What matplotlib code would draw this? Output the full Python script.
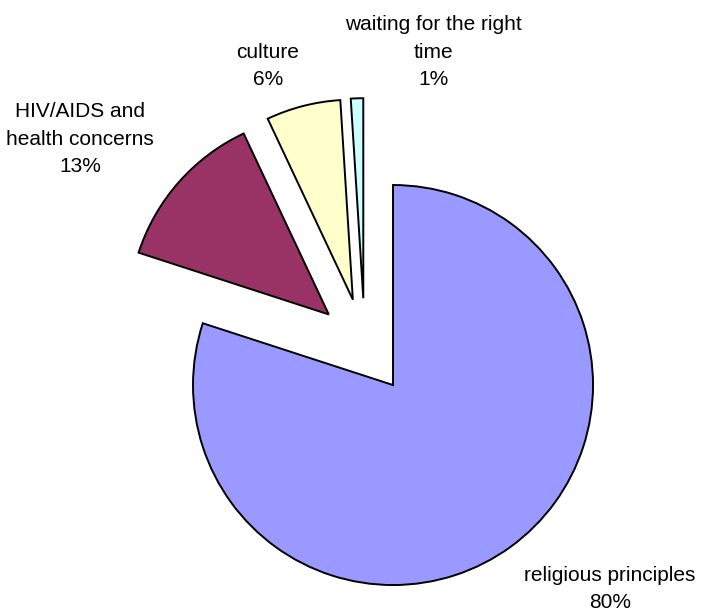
import matplotlib
matplotlib.use("Agg")
import matplotlib.pyplot as plt

# Reasons given, share of respondents (%)
categories = ["religious principles", "HIV/AIDS and\nhealth concerns", "culture",
              "waiting for the right\ntime"]
shares = [80, 13, 6, 1]
colors = ["#9999FF", "#993366", "#FFFFCC", "#CCFFFF"]

W, H, DPI = 701, 613, 100
fig = plt.figure(figsize=(W / DPI, H / DPI), dpi=DPI)
ax = fig.add_axes([0, 0, 1, 1])

ax.pie(shares, colors=colors, startangle=90, counterclock=False,
       explode=[0.24] * len(shares), radius=1.0,
       wedgeprops=dict(edgecolor="black", linewidth=1.4))

# pixel scale: one pie radius is 200 px, pie centre at (365, 346) px
scale = 200.0
cx, cy = 364.8, 346.2
ax.set_xlim(-cx / scale, (W - cx) / scale)
ax.set_ylim(-(H - cy) / scale, cy / scale)
ax.set_aspect("auto")
ax.axis("off")

# label anchor points in figure pixels (x, y from top)
label_px = [(610, 589), (80, 139), (268, 66), (433, 52)]
for name, val, (px, py) in zip(categories, shares, label_px):
    fig.text(px / W, 1 - py / H, f"{name}\n{val}%", ha="center", va="center",
             fontsize=15, family=["Liberation Sans", "DejaVu Sans"],
             linespacing=1.55, color="black")

fig.savefig("out.png", dpi=DPI)
